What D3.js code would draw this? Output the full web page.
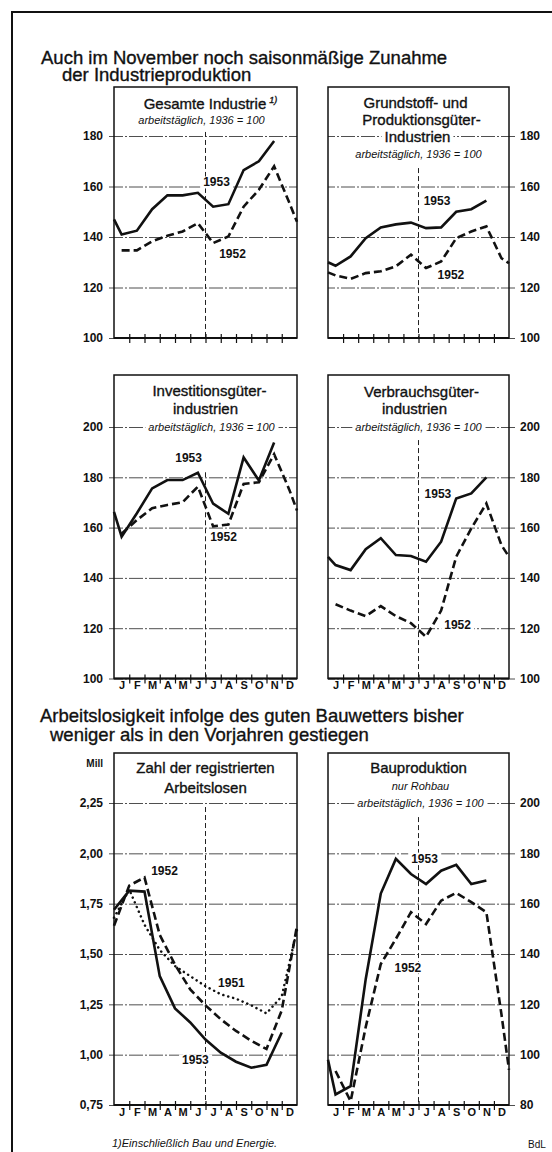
<!DOCTYPE html>
<html>
<head>
<meta charset="utf-8">
<script src="https://cdn.jsdelivr.net/npm/d3@7"></script>
<style>
  body { margin: 0; background: #fff; }
  svg text { font-family: "Liberation Sans", Arial, sans-serif; fill: #111; }
</style>
</head>
<body>
<div id="chart"></div>
<script>
//Monate
const MONTHS = ['J','F','M','A','M','J','J','A','S','O','N','D'];

//Produktionsindizes, arbeitstäglich 1936 = 100
//Aufbau: [Rand links (Übergang vom Vorjahr), J ... D, Rand rechts]
const gesamt1953 = [147, 141, 142.5, 151, 156.5, 156.5, 157.5, 152, 153, 166.5, 170, 178, null, null];
const gesamt1952 = [null, 134.7, 134.7, 138.3, 140.5, 142.2, 145.5, 137.6, 140.2, 152, 158.7, 168, 153.5, 146];

const grund1953 = [130, 128.6, 132.3, 139.5, 143.8, 145, 145.7, 143.5, 143.8, 150, 151, 154.4, null, null];
const grund1952 = [126, 124.8, 123.4, 125.7, 126.4, 128.4, 133, 127.7, 130.3, 139.5, 142.2, 144.2, 131.6, 129.6];

const invest1953 = [166.3, 156.4, 165.7, 175.6, 178.9, 178.9, 181.8, 169.5, 165.5, 187.9, 178.7, 193.8, null, null];
const invest1952 = [null, 157.6, 163, 167.7, 169, 170.1, 176.3, 160.5, 161.2, 177.4, 178, 189.2, 175, 166.8];

const verbr1953 = [148.4, 145.1, 143.1, 151.4, 155.8, 149.1, 148.7, 146.4, 154.4, 171.6, 173.6, 180, null, null];
const verbr1952 = [null, 129.5, 127, 124.8, 128.8, 124.8, 122, 116.6, 127, 148.4, 159.7, 169.6, 153, 148.4];

const bau1953 = [98, 84.2, 87.5, 130, 164, 177.8, 171.8, 167.8, 173.1, 175.4, 167.8, 169.2, null, null];
const bau1952 = [null, 93.5, 81.5, 111, 136, 146, 156.6, 151.9, 161.2, 164.3, 160.6, 156.6, 116, 94];

//Registrierte Arbeitslose in Mill., jeweils Monatsende: [Dez Vorjahr, J ... D]
const alo1953 = [1.72, 1.815, 1.81, 1.39, 1.23, 1.16, 1.075, 1.01, 0.965, 0.935, 0.95, 1.11, null];
const alo1952 = [1.64, 1.84, 1.88, 1.595, 1.447, 1.324, 1.245, 1.176, 1.118, 1.069, 1.028, 1.22, 1.64];
const alo1951 = [1.68, 1.82, 1.645, 1.52, 1.44, 1.39, 1.34, 1.30, 1.278, 1.245, 1.205, 1.29, 1.62];

//Achsenbeschriftungen
const ticksIdx180 = [100, 120, 140, 160, 180];
const ticksIdx200 = [100, 120, 140, 160, 180, 200];
const ticksMill = [0.75, 1.00, 1.25, 1.50, 1.75, 2.00, 2.25];
const ticksBau = [80, 100, 120, 140, 160, 180, 200];

const W = 552, H = 1152;
const FONT = '"Liberation Sans", Arial, sans-serif';
const COL_L = {x0: 114, x1: 297}, COL_R = {x0: 328, x1: 509};

const svg = d3.select('#chart').append('svg')
    .attr('width', W).attr('height', H);
svg.append('rect').attr('width', W).attr('height', H).attr('fill', '#fff');

const gGrid = svg.append('g'),
    gBg = svg.append('g'),
    gLines = svg.append('g'),
    gFrame = svg.append('g'),
    gText = svg.append('g');

//Text mit weißem Hintergrund (unterbricht Gitterlinien)
function label(x, y, txt, opt) {
    opt = opt || {};
    let t = gText.append('text')
        .attr('x', x).attr('y', y)
        .attr('text-anchor', opt.anchor || 'middle')
        .style('font-size', (opt.size || 12) + 'px')
        .style('font-weight', opt.weight || 'normal')
        .style('font-style', opt.italic ? 'italic' : 'normal')
        .text(txt);
    if (opt.heavy) {
        t.attr('stroke', '#111').attr('stroke-width', 0.35);
    }
    if (opt.note) {
        t.append('tspan').attr('dx', 3).attr('dy', -6)
            .style('font-size', '9px').style('font-style', 'italic').text(opt.note);
    }
    if (opt.bg) {
        let b = t.node().getBBox();
        gBg.append('rect')
            .attr('x', b.x - 3).attr('y', b.y + 1).attr('width', b.width + 6).attr('height', b.height - 2)
            .attr('fill', '#fff');
    }
    return t;
}

const STYLES = {
    solid: {w: 2.6, dash: null},
    dash: {w: 2.6, dash: '8,4'},
    dot: {w: 2.5, dash: '0.1,5'}
};

const panels = [
    {col: COL_L, top: 87, domain: [100, 180], range: [338, 136], ticks: ticksIdx180, axis: 'left',
     months: false, mode: 'mid', midTop: 181.6,
     series: [{v: gesamt1953, s: 'solid'}, {v: gesamt1952, s: 'dash'}],
     tags: [['1953', 6.72, 161.8], ['1952', 7.77, 133.3]],
     title: [{t: 'Gesamte Industrie', y: 109, size: 15, dx: 5, note: '1)'},
             {t: 'arbeitstäglich, 1936 = 100', y: 124, size: 11, italic: true, dx: -4}]},
    {col: COL_R, top: 87, domain: [100, 180], range: [338, 136], ticks: ticksIdx180, axis: 'right',
     months: false, mode: 'mid', midTop: 167.3,
     series: [{v: grund1953, s: 'solid'}, {v: grund1952, s: 'dash'}],
     tags: [['1953', 7.23, 154.3], ['1952', 8.15, 125]],
     title: [{t: 'Grundstoff- und', y: 108, size: 15, dx: -3},
             {t: 'Produktionsgüter-', y: 125, size: 15, dx: 3},
             {t: 'Industrien', y: 142, size: 15, dx: -1},
             {t: 'arbeitstäglich, 1936 = 100', y: 158, size: 11, italic: true}]},
    {col: COL_L, top: 375, domain: [100, 200], range: [678.5, 427], ticks: ticksIdx200, axis: 'left',
     months: true, mode: 'mid', midTop: 182,
     series: [{v: invest1953, s: 'solid'}, {v: invest1952, s: 'dash'}],
     tags: [['1953', 4.89, 187.7], ['1952', 7.18, 156.3]],
     title: [{t: 'Investitionsgüter-', y: 396, size: 15, dx: 4},
             {t: 'industrien', y: 414, size: 15},
             {t: 'arbeitstäglich, 1936 = 100', y: 431, size: 11, italic: true, dx: 6}]},
    {col: COL_R, top: 375, domain: [100, 200], range: [678.5, 427], ticks: ticksIdx200, axis: 'right',
     months: true, mode: 'mid', midTop: 194.8,
     series: [{v: verbr1953, s: 'solid'}, {v: verbr1952, s: 'dash'}],
     tags: [['1953', 7.29, 173.4], ['1952', 8.59, 121.3]],
     title: [{t: 'Verbrauchsgüter-', y: 397, size: 15, dx: 3},
             {t: 'industrien', y: 414, size: 15, dx: -4},
             {t: 'arbeitstäglich, 1936 = 100', y: 431, size: 11, italic: true}]},
    {col: COL_L, top: 753, domain: [0.75, 2.25], range: [1105, 803], ticks: ticksMill, axis: 'left',
     months: true, mode: 'end', midTop: 2.23, fmt: d => d3.format('.2f')(d).replace('.', ','),
     series: [{v: alo1951, s: 'dot'}, {v: alo1952, s: 'dash'}, {v: alo1953, s: 'solid'}],
     tags: [['1952', 3.31, 1.917], ['1951', 7.7, 1.356], ['1953', 5.34, 0.974]],
     title: [{t: 'Zahl der registrierten', y: 773, size: 15},
             {t: 'Arbeitslosen', y: 793, size: 15}]},
    {col: COL_R, top: 753, domain: [80, 200], range: [1105, 803], ticks: ticksBau, axis: 'right',
     months: true, mode: 'mid', midTop: 194.4,
     series: [{v: bau1953, s: 'solid'}, {v: bau1952, s: 'dash'}],
     tags: [['1953', 6.4, 178.1], ['1952', 5.3, 134.8]],
     title: [{t: 'Bauproduktion', y: 773, size: 15},
             {t: 'nur Rohbau', y: 790, size: 11, italic: true, dx: 2},
             {t: 'arbeitstäglich, 1936 = 100', y: 807, size: 11, italic: true, dx: 2}]}
];

function drawPanel(p) {
    let x0 = p.col.x0, x1 = p.col.x1, w = x1 - x0;
    let x = d3.scaleLinear().domain([0, 12]).range([x0, x1]);
    let y = d3.scaleLinear().domain(p.domain).range(p.range);
    let base = y(p.domain[0]);
    let left = p.axis === 'left';

    //Gitterlinien + Beschriftung der Y-Achse
    let yAxis = left ? d3.axisLeft(y) : d3.axisRight(y);
    yAxis.tickValues(p.ticks).tickSize(-w).tickPadding(11)
        .tickFormat(p.fmt || d3.format('d'));
    let ga = gGrid.append('g')
        .attr('transform', 'translate(' + (left ? x0 : x1) + ',0)')
        .call(yAxis);
    ga.select('.domain').remove();
    ga.selectAll('.tick line')
        .attr('x1', left ? -5 : 6)
        .attr('stroke', '#222').attr('stroke-width', 0.8)
        .attr('stroke-dasharray', '14,2,2,2');
    //Zahlen auf die Textebene verschieben
    ga.selectAll('.tick text').each(function() {
        let tr = this.parentNode.getAttribute('transform');
        let node = this;
        gText.append(() => node).attr('transform', tr)
            .attr('x', left ? x0 - 11 : x1 + 11)
            .attr('text-anchor', left ? 'end' : 'start')
            .style('font-family', FONT).style('font-size', '12px').style('font-weight', 'bold')
            .attr('fill', '#111');
    });

    //Mittellinie (Juni/Juli)
    gGrid.append('line')
        .attr('x1', x(6)).attr('x2', x(6))
        .attr('y1', y(p.midTop)).attr('y2', base)
        .attr('stroke', '#222').attr('stroke-width', 1)
        .attr('stroke-dasharray', '5,3');

    //Titel
    let cx = (x0 + x1) / 2;
    p.title.forEach(function(l) {
        label(cx + (l.dx || 0), l.y, l.t, {size: l.size, italic: l.italic, note: l.note, bg: true, heavy: !l.italic});
    });

    //Jahresbeschriftungen
    p.tags.forEach(function(tg) {
        label(x(tg[1]), y(tg[2]) + 4.5, tg[0], {size: 12, weight: 'bold', bg: true});
    });

    //Linien
    let xPos = p.mode === 'end'
        ? function(i) { return i; }
        : function(i, n) { return i === 0 ? 0 : (i === n - 1 ? 12 : i - 0.5); };
    p.series.forEach(function(s) {
        let pts = s.v.map(function(v, i) { return {i: xPos(i, s.v.length), v: v}; });
        let line = d3.line()
            .defined(function(d) { return d.v !== null; })
            .x(function(d) { return x(d.i); })
            .y(function(d) { return y(d.v); });
        let st = STYLES[s.s];
        gLines.append('path')
            .datum(pts)
            .attr('d', line)
            .attr('fill', 'none')
            .attr('stroke', '#111')
            .attr('stroke-width', st.w)
            .attr('stroke-linejoin', 'miter')
            .attr('stroke-linecap', s.s === 'dot' ? 'round' : 'butt')
            .attr('stroke-dasharray', st.dash);
    });

    //Rahmen
    gFrame.append('rect')
        .attr('x', x0).attr('y', p.top)
        .attr('width', w).attr('height', base - p.top)
        .attr('fill', 'none').attr('stroke', '#111').attr('stroke-width', 1.5);
    gFrame.append('line')
        .attr('x1', x0).attr('x2', x1).attr('y1', base).attr('y2', base)
        .attr('stroke', '#111').attr('stroke-width', 2.2);

    //Monatsstriche
    let xAxis = d3.axisBottom(x).tickValues(d3.range(1, 12)).tickSize(5).tickFormat('');
    let gx = gFrame.append('g').attr('transform', 'translate(0,' + base + ')').call(xAxis);
    gx.select('.domain').remove();
    gx.selectAll('.tick line').attr('y1', -4).attr('stroke', '#111').attr('stroke-width', 1.2);

    //Monatsnamen
    if (p.months) {
        let xm = d3.axisBottom(x).tickValues(d3.range(0.5, 12, 1)).tickSize(0).tickPadding(3)
            .tickFormat(function(d) { return MONTHS[Math.floor(d)]; });
        let gm = gText.append('g').attr('transform', 'translate(0,' + base + ')').call(xm);
        gm.select('.domain').remove();
        gm.selectAll('text')
            .style('font-family', FONT).style('font-size', '11px').style('font-weight', 'bold')
            .attr('fill', '#111');
    }
}

panels.forEach(drawPanel);

//Äußerer Rahmen
svg.append('rect')
    .attr('x', 12).attr('y', 12).attr('width', 600).attr('height', 1200)
    .attr('fill', 'none').attr('stroke', '#111').attr('stroke-width', 2);

//Überschriften
label(41, 64, 'Auch im November noch saisonmäßige Zunahme', {anchor: 'start', size: 18.5, heavy: true});
label(62, 81, 'der Industrieproduktion', {anchor: 'start', size: 18.5, heavy: true});
label(40, 722, 'Arbeitslosigkeit infolge des guten Bauwetters bisher', {anchor: 'start', size: 18.5, heavy: true});
label(50, 741, 'weniger als in den Vorjahren gestiegen', {anchor: 'start', size: 18.5, heavy: true});
label(103, 767, 'Mill', {anchor: 'end', size: 10, weight: 'bold'});

//Fußnote und Quelle
label(112, 1147, '1)Einschließlich Bau und Energie.', {anchor: 'start', size: 11, italic: true});
label(528, 1148, 'BdL', {anchor: 'start', size: 10});
</script>
</body>
</html>
